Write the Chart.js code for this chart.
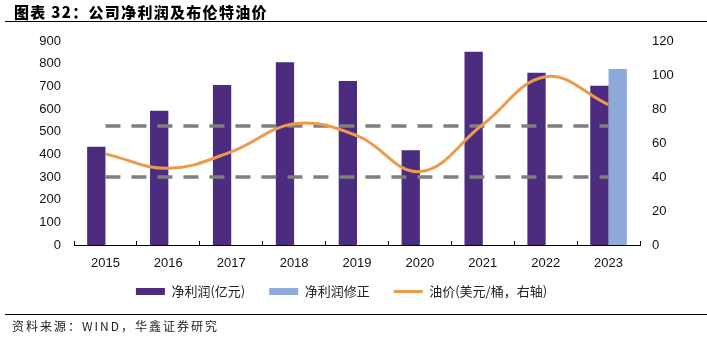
<!DOCTYPE html>
<html>
<head>
<meta charset="utf-8">
<script src="https://cdn.jsdelivr.net/npm/chart.js@4.4.1/dist/chart.umd.min.js"></script>
<style>
  html, body { margin: 0; padding: 0; background: #fff; }
  #wrap { position: relative; width: 707px; height: 337px; overflow: hidden; }
  #chartBox { position: absolute; left: 0; top: 0; width: 707px; height: 337px; }
  #title { position: absolute; left: 14px; top: 2px; font-family: "Noto Sans CJK SC", sans-serif; font-weight: 900; font-size: 15px; line-height: 20px; letter-spacing: 1.3px; color: #000; white-space: nowrap; }
  #rule1 { position: absolute; left: 5px; right: 0; top: 21px; height: 0; border-top: 1.5px solid #000; }
  #rule2 { position: absolute; left: 5px; right: 0; top: 314px; height: 0; border-top: 1.5px solid #000; }
  #footer { position: absolute; left: 12px; top: 318px; font-family: "Noto Sans CJK SC", sans-serif; font-size: 12px; line-height: 16px; letter-spacing: 2px; color: #222; white-space: nowrap; }
</style>
</head>
<body>
<div id="wrap">
  <div id="chartBox"><canvas id="c"></canvas></div>
  <div id="title">图表 32：公司净利润及布伦特油价</div>
  <div id="rule1"></div>
  <div id="rule2"></div>
  <div id="footer">资料来源：WIND，华鑫证券研究</div>
</div>
<script>
const categories = ['2015', '2016', '2017', '2018', '2019', '2020', '2021', '2022', '2023'];
const netProfit = [434, 592, 706, 806, 723, 418, 853, 760, 703];
const netProfitAdj = [null, null, null, null, null, null, null, null, 776];
const oilPrice = [53.6, 45.1, 54.8, 71.3, 64.3, 43.2, 70.9, 99.0, 82.5];
const upperBand = [70, 70, 70, 70, 70, 70, 70, 70, 70];
const lowerBand = [40, 40, 40, 40, 40, 40, 40, 40, 40];
const leftTicks = [0, 100, 200, 300, 400, 500, 600, 700, 800, 900];
const rightTicks = [0, 20, 40, 60, 80, 100, 120];
const seriesNames = ['净利润(亿元)', '净利润修正', '油价(美元/桶，右轴)'];

const tickFont = { family: '"Liberation Sans", Arial, sans-serif', size: 13 };

const legendShift = {
  id: 'legendShift',
  afterLayout(chart) {
    const l = chart.legend;
    if (l) { l.top -= 12; l.bottom -= 12; l.left -= 12; l.right -= 12; }
  }
};

new Chart(document.getElementById('c'), {
  plugins: [legendShift],
  data: {
    labels: categories,
    datasets: [
      { type: 'bar', label: seriesNames[0], data: netProfit, yAxisID: 'y', backgroundColor: '#4b2c7f', borderWidth: 0, order: 3, pointStyle: 'rect' },
      { type: 'bar', label: seriesNames[1], data: netProfitAdj, yAxisID: 'y', backgroundColor: '#8eaadb', borderWidth: 0, order: 3, pointStyle: 'rect' },
      { type: 'line', label: seriesNames[2], data: oilPrice, yAxisID: 'y1', borderColor: '#ee9a4d', backgroundColor: '#ee9a4d', borderWidth: 3, pointRadius: 0, pointHoverRadius: 0, tension: 0.4, pointStyle: 'line', order: 1 },
      { type: 'line', label: 'band70', data: upperBand, yAxisID: 'y1', borderColor: '#7f7f7f', borderWidth: 3.5, borderDash: [15, 11], pointRadius: 0, order: 2 },
      { type: 'line', label: 'band40', data: lowerBand, yAxisID: 'y1', borderColor: '#7f7f7f', borderWidth: 3.5, borderDash: [15, 11], pointRadius: 0, order: 2 }
    ]
  },
  options: {
    responsive: true,
    maintainAspectRatio: false,
    animation: false,
    events: [],
    layout: { padding: { top: 41, left: 0, right: 0, bottom: 17 } },
    datasets: { bar: { categoryPercentage: 0.582, barPercentage: 1.0 } },
    scales: {
      x: {
        position: 'bottom',
        offset: true,
        grid: { display: true, drawOnChartArea: false, drawTicks: true, tickLength: -4, color: '#000', lineWidth: 1, offset: true },
        border: { display: true, color: '#000', width: 1 },
        ticks: { font: tickFont, color: '#111', padding: 15, maxRotation: 0 },
        afterFit: (s) => { s.height = 28; }
      },
      y: {
        position: 'left',
        min: 0, max: 900,
        afterBuildTicks: (s) => { s.ticks = leftTicks.map(v => ({ value: v })); },
        grid: { display: false, drawTicks: false },
        border: { display: false },
        ticks: { font: tickFont, color: '#111', padding: 13 },
        afterFit: (s) => { s.width = 74; }
      },
      y1: {
        position: 'right',
        min: 0, max: 120,
        afterBuildTicks: (s) => { s.ticks = rightTicks.map(v => ({ value: v })); },
        grid: { display: false, drawTicks: false },
        border: { display: false },
        ticks: { font: tickFont, color: '#111', padding: 12 },
        afterFit: (s) => { s.width = 67; }
      }
    },
    plugins: {
      tooltip: { enabled: false },
      legend: {
        position: 'bottom',
        labels: {
          filter: (item) => item.datasetIndex < 3,
          sort: (a, b) => a.datasetIndex - b.datasetIndex,
          usePointStyle: true,
          pointStyleWidth: 29,
          boxHeight: 7,
          padding: 24,
          color: '#222',
          font: { family: '"Noto Sans CJK SC", sans-serif', size: 13 }
        }
      }
    }
  }
});
</script>
</body>
</html>
